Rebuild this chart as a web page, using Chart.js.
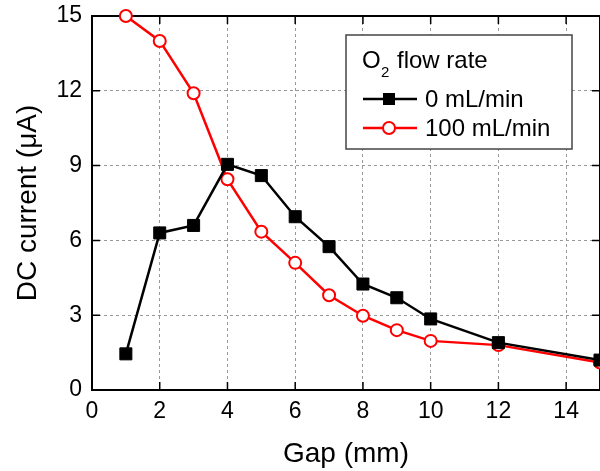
<!DOCTYPE html>
<html>
<head>
<meta charset="utf-8">
<script src="https://cdn.jsdelivr.net/npm/chart.js@4"></script>
<style>
  html, body { margin: 0; padding: 0; background: #fff; }
  #wrap { width: 600px; height: 471px; }
</style>
</head>
<body>
<div id="wrap"><canvas id="gapChart" width="600" height="471"></canvas></div>
<script>
const gaps = [1, 2, 3, 4, 5, 6, 7, 8, 9, 10, 12, 15];
const current0 = [1.45, 6.3, 6.6, 9.05, 8.6, 6.95, 5.75, 4.25, 3.7, 2.85, 1.9, 1.2];
const current100 = [15.0, 14.0, 11.9, 8.45, 6.35, 5.1, 3.8, 2.98, 2.4, 1.97, 1.8, 1.1];
const xTicks = [0, 2, 4, 6, 8, 10, 12, 14];
const yTicks = [0, 3, 6, 9, 12, 15];
const seriesNames = ['0 mL/min', '100 mL/min'];

const FONT = '"Liberation Sans", Arial, sans-serif';

// frame and inward ticks on all four sides
const framePlugin = {
  id: 'frame',
  beforeDatasetsDraw(chart) {
    const { ctx, chartArea: a, scales } = chart;
    ctx.save();
    ctx.strokeStyle = '#000';
    ctx.lineWidth = 1.5;
    ctx.beginPath();
    xTicks.forEach(v => {
      const x = scales.x.getPixelForValue(v);
      ctx.moveTo(x, a.bottom); ctx.lineTo(x, a.bottom - 8);
      ctx.moveTo(x, a.top); ctx.lineTo(x, a.top + 8);
    });
    yTicks.forEach(v => {
      const y = scales.y.getPixelForValue(v);
      ctx.moveTo(a.left, y); ctx.lineTo(a.left + 8, y);
      ctx.moveTo(a.right, y); ctx.lineTo(a.right - 8, y);
    });
    ctx.stroke();
    ctx.lineWidth = 2;
    ctx.strokeRect(a.left, a.top, a.right - a.left, a.bottom - a.top);
    ctx.restore();
  }
};

// boxed legend inside the plot
const boxLegend = {
  id: 'boxLegend',
  afterDraw(chart) {
    const { ctx } = chart;
    const bx = 346, by = 35, bw = 226, bh = 114;
    ctx.save();
    ctx.fillStyle = '#fff';
    ctx.fillRect(bx, by, bw, bh);
    ctx.strokeStyle = '#444';
    ctx.lineWidth = 1.5;
    ctx.strokeRect(bx, by, bw, bh);

    ctx.fillStyle = '#000';
    ctx.textBaseline = 'alphabetic';
    ctx.font = '24px ' + FONT;
    ctx.fillText('O', 362, 68);
    ctx.font = '15px ' + FONT;
    ctx.fillText('2', 381, 77);
    ctx.font = '24px ' + FONT;
    ctx.fillText('flow rate', 397, 68);

    const rows = [
      { y: 99, color: '#000', name: seriesNames[0], marker: 'rect' },
      { y: 128, color: '#ff0000', name: seriesNames[1], marker: 'circle' }
    ];
    rows.forEach(r => {
      ctx.strokeStyle = r.color;
      ctx.lineWidth = 2.5;
      ctx.beginPath();
      ctx.moveTo(363, r.y); ctx.lineTo(417, r.y);
      ctx.stroke();
      if (r.marker === 'rect') {
        ctx.fillStyle = r.color;
        ctx.fillRect(383, r.y - 6, 12, 12);
      } else {
        ctx.fillStyle = '#fff';
        ctx.lineWidth = 2;
        ctx.beginPath();
        ctx.arc(389, r.y, 6, 0, Math.PI * 2);
        ctx.fill();
        ctx.stroke();
      }
      ctx.fillStyle = '#000';
      ctx.font = '24px ' + FONT;
      ctx.textBaseline = 'middle';
      ctx.fillText(r.name, 425, r.y + 1);
    });
    ctx.restore();
  }
};

new Chart(document.getElementById('gapChart'), {
  type: 'line',
  data: {
    datasets: [
      {
        label: seriesNames[0],
        data: gaps.map((g, i) => ({ x: g, y: current0[i] })),
        borderColor: '#000',
        backgroundColor: '#000',
        borderWidth: 2.5,
        pointStyle: 'rect',
        pointRadius: 8.5,
        pointBorderWidth: 1,
        pointBackgroundColor: '#000',
        pointBorderColor: '#000',
        clip: false
      },
      {
        label: seriesNames[1],
        data: gaps.map((g, i) => ({ x: g, y: current100[i] })),
        borderColor: '#ff0000',
        backgroundColor: '#fff',
        borderWidth: 2.5,
        pointStyle: 'circle',
        pointRadius: 6,
        pointBorderWidth: 2,
        pointBackgroundColor: '#fff',
        pointBorderColor: '#ff0000',
        clip: false
      }
    ]
  },
  options: {
    responsive: false,
    animation: false,
    layout: { autoPadding: false, padding: { top: 16, right: -3, left: 0, bottom: 0 } },
    plugins: {
      legend: { display: false },
      tooltip: { enabled: false }
    },
    scales: {
      x: {
        type: 'linear',
        min: 0,
        max: 15,
        afterBuildTicks: s => { s.ticks = xTicks.map(v => ({ value: v })); },
        afterFit: s => { s.height = 81; s.paddingLeft = 0; s.paddingRight = 0; },
        grid: { color: '#999', lineWidth: 1, drawTicks: false },
        border: { display: false, dash: [3, 3] },
        ticks: { color: '#000', font: { family: FONT, size: 23 }, padding: 8, maxRotation: 0 },
        title: { display: true, text: 'Gap (mm)', color: '#000', font: { family: FONT, size: 28 }, padding: { top: 0, bottom: 0 } }
      },
      y: {
        min: 0,
        max: 15,
        afterBuildTicks: s => { s.ticks = yTicks.map(v => ({ value: v })); },
        afterFit: s => { s.width = 92; s.paddingTop = 0; s.paddingBottom = 0; },
        grid: { color: '#999', lineWidth: 1, drawTicks: false },
        border: { display: false, dash: [3, 3] },
        ticks: { color: '#000', font: { family: FONT, size: 23 }, padding: 10 },
        title: { display: true, text: 'DC current (μA)', color: '#000', font: { family: FONT, size: 28 }, padding: { top: 11, bottom: 0 } }
      }
    }
  },
  plugins: [framePlugin, boxLegend]
});
</script>
</body>
</html>
